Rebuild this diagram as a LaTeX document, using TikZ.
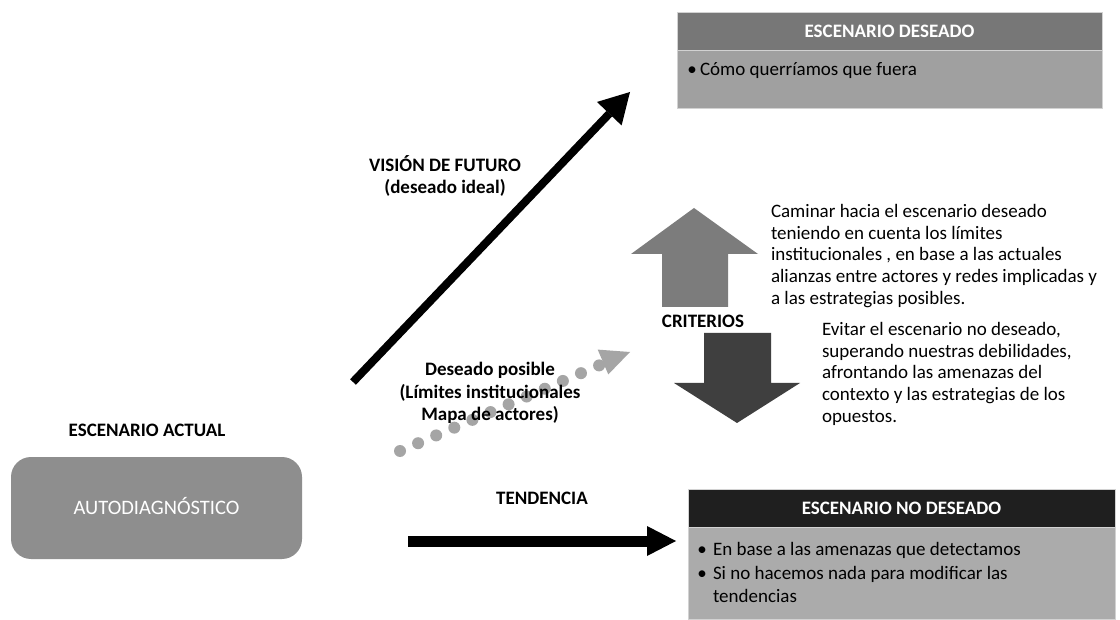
\documentclass[tikz,border=0pt]{standalone}
\usepackage{fontspec}
\setmainfont{Carlito}
\usetikzlibrary{arrows.meta}
\definecolor{hdrA}{HTML}{777777}
\definecolor{bodyA}{HTML}{A0A0A0}
\definecolor{hdrB}{HTML}{1F1F1F}
\definecolor{bodyB}{HTML}{ABABAB}
\definecolor{autoC}{HTML}{8E8E8E}
\definecolor{upC}{HTML}{7C7C7C}
\definecolor{downC}{HTML}{3F3F3F}
\definecolor{dotC}{HTML}{A5A5A5}
\definecolor{edgeC}{HTML}{D2D2D2}
\begin{document}
\begin{tikzpicture}[x=1pt,y=-1pt,
  panel/.style={anchor=north west, inner sep=0pt, outer sep=0pt, draw=edgeC, line width=0.8pt},
  hdrtext/.style={text=white, font=\bfseries\fontsize{19}{22}\selectfont},
  txt/.style={inner sep=0pt, outer sep=0pt, font=\fontsize{19}{21.7}\selectfont},
  bultxt/.style={inner sep=0pt, outer sep=0pt, font=\fontsize{19}{23}\selectfont},
  btxt/.style={inner sep=0pt, outer sep=0pt, font=\bfseries\fontsize{19}{22.5}\selectfont},
  blockup/.style={fill=upC},
  blockdown/.style={fill=downC},
  bigarrow/.style={draw=black, line width=8pt, -{Triangle[length=30pt,width=34pt,line width=0pt]}},
  tendarrow/.style={draw=black, line width=11pt, -{Triangle[length=29pt,width=30pt,line width=0pt]}},
  dotline/.style={draw=dotC, line width=12pt, line cap=round, dash pattern=on 0pt off 19.7pt}
]
\fill[white] (0,0) rectangle (1120,620);
\useasboundingbox (0,0) rectangle (1120,620);

% ---- Escenario deseado
\node[panel, fill=hdrA, minimum width=425pt, minimum height=38pt, hdrtext, text height=12.2pt, text depth=0pt] (desH) at (677,12) {ESCENARIO DESEADO};
\node[panel, fill=bodyA, minimum width=425pt, minimum height=58pt] (desB) at (677,50) {};
\node[txt, anchor=base] (desBul) at (692,76) {•};
\node[txt, anchor=base west] (desT) at (700,76) {Cómo querríamos que fuera};

% ---- Escenario no deseado
\node[panel, fill=hdrB, minimum width=427pt, minimum height=38pt, hdrtext, text height=12.2pt, text depth=0pt] (ndH) at (688,489) {ESCENARIO NO DESEADO};
\node[panel, fill=bodyB, minimum width=427pt, minimum height=92pt] (ndB) at (688,527) {};
\node[bultxt, anchor=base] (ndBul1) at (702,555.5) {•};
\node[bultxt, anchor=base west] (ndT1) at (713,555.5) {En base a las amenazas que detectamos};
\node[bultxt, anchor=base] (ndBul2) at (702,579.5) {•};
\node[bultxt, anchor=north west, align=left] (ndT2) at (713,563.4) {\strut Si no hacemos nada para modificar las\\tendencias};

% ---- Escenario actual
\node[btxt, anchor=base] (actual) at (147,436) {ESCENARIO ACTUAL};
\node[fill=autoC, rounded corners=20pt, minimum width=291pt, minimum height=102pt, inner sep=0pt,
      text=white, font=\fontsize{20.5}{23}\selectfont, text height=13.2pt, text depth=0pt] (auto) at (156.5,508) {AUTODIAGNÓSTICO};

% ---- Vision de futuro arrow
\coordinate (visS) at (353,382);
\coordinate (visE) at (630,92);
\draw[bigarrow] (visS) -- (visE);
\node[btxt, anchor=north, align=center] (vision) at (445,155.3) {\strut VISIÓN DE FUTURO\\(deseado ideal)};

% ---- Tendencia arrow
\coordinate (tenS) at (408,541);
\coordinate (tenE) at (676,541);
\draw[tendarrow] (tenS) -- (tenE);
\node[btxt, anchor=base] (tend) at (542,504) {TENDENCIA};

% ---- Deseado posible dotted arrow
\coordinate (dotS) at (400,451);
\coordinate (dotE) at (600,365);
\coordinate (dotTip) at (630,352);
\draw[dotline] (dotS) -- (dotE);
\fill[dotC] (dotTip) -- (597.7,349.6) -- (608.3,374.4) -- cycle;
\node[btxt, anchor=north, align=center] (posible) at (490,359.8) {\strut Deseado posible\\(Límites institucionales\\Mapa de actores)};

% ---- Criterios block arrows
\path[blockup] (694,208) -- (758,254) -- (728,254) -- (728,307) -- (662,307) -- (662,254) -- (631,254) -- cycle;
\node[btxt, anchor=base] (crit) at (703,328) {CRITERIOS};
\path[blockdown] (704,333) -- (771,333) -- (771,383) -- (800,383) -- (737,423) -- (674,383) -- (704,383) -- cycle;

% ---- Texts on the right
\node[txt, anchor=north west, align=left] (caminar) at (771,202.3) {\strut Caminar hacia el escenario deseado\\teniendo en cuenta los límites\\institucionales , en base a las actuales\\alianzas entre actores y redes implicadas y\\a las estrategias posibles.};
\node[txt, anchor=north west, align=left] (evitar) at (822,320.3) {\strut Evitar el escenario no deseado,\\superando nuestras debilidades,\\afrontando las amenazas del\\contexto y las estrategias de los\\opuestos.};
\end{tikzpicture}
\end{document}
